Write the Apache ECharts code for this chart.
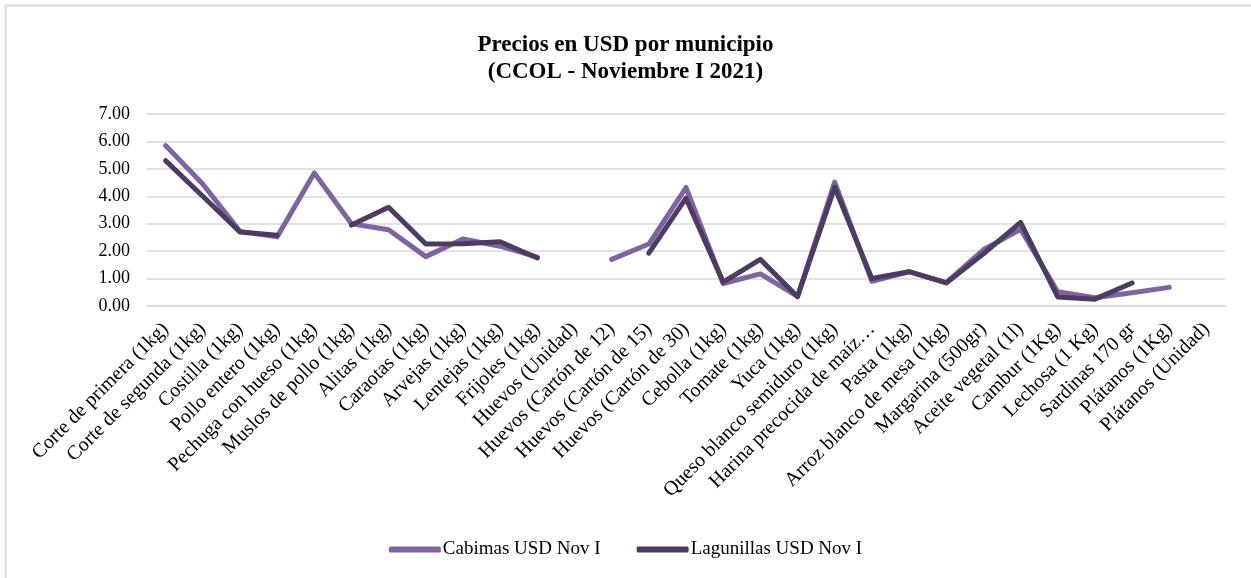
<!DOCTYPE html>
<html>
<head>
<meta charset="utf-8">
<script src="https://cdn.jsdelivr.net/npm/echarts@6/dist/echarts.min.js"></script>
<style>
html,body{margin:0;padding:0;background:#fff;}
#c{width:1251px;height:578px;}
</style>
</head>
<body>
<div id="c"></div>
<script>
var categories = [
  'Corte de primera (1kg)','Corte de segunda (1kg)','Costilla (1kg)','Pollo entero (1kg)',
  'Pechuga con hueso (1kg)','Muslos de pollo (1kg)','Alitas (1kg)','Caraotas (1kg)',
  'Arvejas (1kg)','Lentejas (1kg)','Frijoles (1kg)','Huevos (Unidad)',
  'Huevos (Cartón de 12)','Huevos (Cartón de 15)','Huevos (Cartón de 30)','Cebolla (1kg)',
  'Tomate (1kg)','Yuca (1kg)','Queso blanco semiduro (1kg)','Harina precocida de maíz…',
  'Pasta (1kg)','Arroz blanco de mesa (1kg)','Margarina (500gr)','Aceite vegetal (1l)',
  'Cambur (1Kg)','Lechosa (1 Kg)','Sardinas 170 gr','Plátanos (1Kg)','Plátanos (Unidad)'
];
var cabimas = [5.85,4.45,2.72,2.52,4.85,3.00,2.78,1.80,2.44,2.18,1.78,null,
  1.70,2.26,4.32,0.82,1.17,0.35,4.52,0.90,1.25,0.85,2.05,2.80,0.52,0.30,0.48,0.68,null];
var lagunillas = [5.30,4.00,2.70,2.58,null,2.95,3.60,2.26,2.27,2.34,1.75,null,
  null,1.93,3.93,0.87,1.70,0.34,4.33,1.00,1.25,0.84,1.90,3.05,0.33,0.25,0.84,null,null];
var yTicks = {min:0, max:7, interval:1};

var font = '"Liberation Serif", "DejaVu Serif", serif';
var chart = echarts.init(document.getElementById('c'));
chart.setOption({
  backgroundColor:'#fff',
  animation:false,
  title:{
    text:'Precios en USD por municipio\n(CCOL - Noviembre I 2021)',
    left:'center', top:27,
    textStyle:{fontFamily:font, fontSize:23, fontWeight:'bold', color:'#000', lineHeight:27}
  },
  legend:{
    bottom:14, left:'center',
    icon:'roundRect',
    itemWidth:52, itemHeight:6, itemGap:36,
    textStyle:{fontFamily:font, fontSize:19, color:'#000', padding:[0,0,0,-3]},
    data:['Cabimas USD Nov I','Lagunillas USD Nov I']
  },
  grid:{left:147, right:26, top:114, bottom:272, containLabel:false},
  xAxis:{
    type:'category', data:categories, boundaryGap:true,
    axisLine:{show:true, lineStyle:{color:'#d9d9d9', width:1.5}},
    axisTick:{show:false},
    axisLabel:{interval:0, rotate:45, margin:20, fontFamily:font, fontSize:20, color:'#000'}
  },
  yAxis:{
    type:'value', min:yTicks.min, max:yTicks.max, interval:yTicks.interval,
    axisLine:{show:false}, axisTick:{show:false},
    splitLine:{lineStyle:{color:'#d9d9d9', width:1.5}},
    axisLabel:{margin:17, fontFamily:font, fontSize:18, color:'#000',
      formatter:function(v){return v.toFixed(2);}}
  },
  series:[
    {name:'Cabimas USD Nov I', type:'line', data:cabimas, symbol:'none',
      connectNulls:false, lineStyle:{color:'#8064a2', width:5, cap:'round', join:'round'},
      itemStyle:{color:'#8064a2'}},
    {name:'Lagunillas USD Nov I', type:'line', data:lagunillas, symbol:'none',
      connectNulls:false, lineStyle:{color:'#4d3b62', width:5, cap:'round', join:'round'},
      itemStyle:{color:'#4d3b62'}}
  ],
  graphic:[
    {type:'line', shape:{x1:5.5,y1:5.5,x2:1251,y2:5.5}, style:{stroke:'#d9d9d9', lineWidth:2}},
    {type:'line', shape:{x1:5.5,y1:5.5,x2:5.5,y2:578}, style:{stroke:'#d9d9d9', lineWidth:2}}
  ]
});
</script>
</body>
</html>
